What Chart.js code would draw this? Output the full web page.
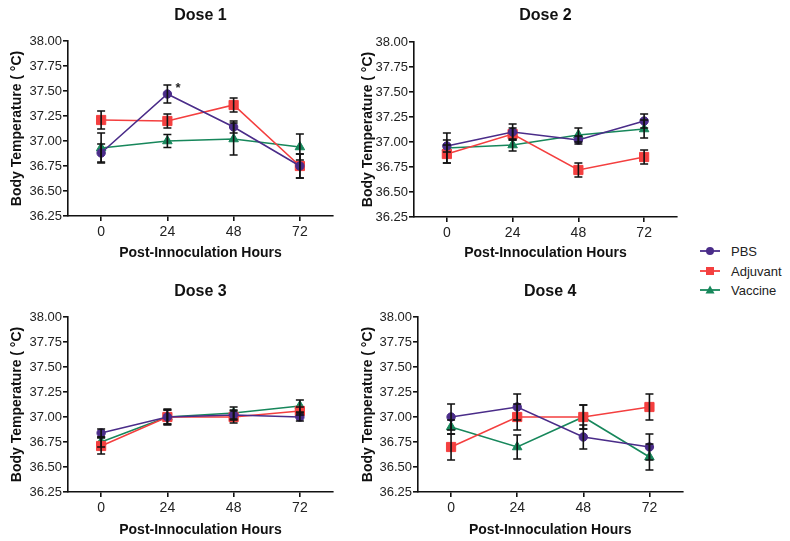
<!DOCTYPE html>
<html>
<head>
<meta charset="utf-8">
<script src="https://cdn.jsdelivr.net/npm/chart.js@4.4.1/dist/chart.umd.min.js"></script>
<style>
  html, body { margin: 0; padding: 0; background: #fff; }
  body { width: 790px; height: 541px; overflow: hidden; position: relative; font-family: "Liberation Sans", Arial, sans-serif; }
  .panel { position: absolute; }
  .panel canvas { display: block; }
  .li { position: absolute; left: 698px; height: 20px; display: flex; align-items: center; font-size: 13px; color: #222; }
  .li svg { margin-right: 9px; }
</style>
</head>
<body>
<div class="panel" id="p0" style="left:0px;top:0px;width:345px;height:262px"><canvas id="c0"></canvas></div>
<div class="panel" id="p1" style="left:345px;top:0px;width:345px;height:262px"><canvas id="c1"></canvas></div>
<div class="panel" id="p2" style="left:0px;top:275px;width:345px;height:264px"><canvas id="c2"></canvas></div>
<div class="panel" id="p3" style="left:345px;top:275px;width:345px;height:264px"><canvas id="c3"></canvas></div>
<div id="legend"></div>

<script>
// ---------------- DATA ----------------
const hours = [0, 24, 48, 72];
const xTickLabels = ['0', '24', '48', '72'];
const yTickValues = [36.25, 36.50, 36.75, 37.00, 37.25, 37.50, 37.75, 38.00];
const doseTitles = ['Dose 1', 'Dose 2', 'Dose 3', 'Dose 4'];
const seriesNames = ['PBS', 'Adjuvant', 'Vaccine'];
const xAxisTitle = 'Post-Innoculation Hours';
const yAxisTitle = 'Body Temperature ( \u00B0C)';

// mean body temperature per dose (rows) and hour (columns)
const pbsMean = [
  [36.88, 37.47, 37.14, 36.75],
  [36.96, 37.10, 37.02, 37.21],
  [36.84, 37.00, 37.02, 37.00],
  [37.00, 37.10, 36.80, 36.70]
];
const pbsErr = [
  [0.09, 0.09, 0.06, 0.12],
  [0.06, 0.08, 0.04, 0.07],
  [0.04, 0.07, 0.05, 0.04],
  [0.13, 0.13, 0.12, 0.13]
];
const adjuvantMean = [
  [37.21, 37.20, 37.36, 36.75],
  [36.88, 37.08, 36.72, 36.85],
  [36.71, 37.00, 37.00, 37.06],
  [36.70, 37.00, 37.00, 37.10]
];
const adjuvantErr = [
  [0.09, 0.07, 0.07, 0.12],
  [0.09, 0.06, 0.07, 0.07],
  [0.08, 0.07, 0.06, 0.04],
  [0.13, 0.13, 0.12, 0.13]
];
const vaccineMean = [
  [36.93, 37.00, 37.02, 36.94],
  [36.94, 36.97, 37.07, 37.13],
  [36.75, 37.00, 37.04, 37.11],
  [36.90, 36.70, 37.00, 36.60]
];
const vaccineErr = [
  [0.15, 0.065, 0.16, 0.13],
  [0.15, 0.06, 0.07, 0.09],
  [0.05, 0.08, 0.06, 0.06],
  [0.07, 0.12, 0.12, 0.13]
];
// significance marks: panel index, hour index, series index, text
const significance = [
  { panel: 0, hourIndex: 1, series: 0, text: '*' }
];

// ---------------- STYLE ----------------
const COLORS = ['#4a2c89', '#f43f3f', '#17875b'];
const POINT_STYLES = ['circle', 'rect', 'triangle'];
const POINT_RADII = [4.2, 6.5, 5.5];
const FONT = '"Liberation Sans", Arial, sans-serif';

// layout per panel: y-axis box width, right padding, axis-title offsets, title paddings
const panelLayout = [
  { yWidth: 68, padRight: 12, yTitlePad: 9,  titleTop: 6, titleBottom: 15.8, xHeight: 46 },
  { yWidth: 69, padRight: 13, yTitlePad: 15, titleTop: 6, titleBottom: 16.8, xHeight: 45 },
  { yWidth: 68, padRight: 12, yTitlePad: 9,  titleTop: 7.4, titleBottom: 15.4, xHeight: 47 },
  { yWidth: 73, padRight: 6,  yTitlePad: 15, titleTop: 7.4, titleBottom: 15.4, xHeight: 47 }
];

const errorBarPlugin = {
  id: 'errorBars',
  afterDatasetsDraw(chart) {
    const { ctx, scales: { y } } = chart;
    ctx.save();
    ctx.strokeStyle = '#111';
    ctx.lineWidth = 1.6;
    chart.data.datasets.forEach((ds, di) => {
      const meta = chart.getDatasetMeta(di);
      meta.data.forEach((pt, j) => {
        const v = ds.data[j], e = ds.err[j];
        const yt = y.getPixelForValue(v + e);
        const yb = y.getPixelForValue(v - e);
        const px = pt.x;
        ctx.beginPath();
        ctx.moveTo(px, yt); ctx.lineTo(px, yb);
        ctx.moveTo(px - 4, yt); ctx.lineTo(px + 4, yt);
        ctx.moveTo(px - 4, yb); ctx.lineTo(px + 4, yb);
        ctx.stroke();
      });
    });
    ctx.restore();
  }
};

const significancePlugin = {
  id: 'significance',
  afterDraw(chart) {
    const idx = chart.options.plugins.significance.panel;
    const { ctx } = chart;
    significance.filter(s => s.panel === idx).forEach(s => {
      const pt = chart.getDatasetMeta(s.series).data[s.hourIndex];
      ctx.save();
      ctx.fillStyle = '#222';
      ctx.font = 'bold 13px ' + FONT;
      ctx.textAlign = 'left';
      ctx.textBaseline = 'middle';
      ctx.fillText(s.text, pt.x + 8, pt.y - 6);
      ctx.restore();
    });
  }
};

function makeChart(i) {
  const L = panelLayout[i];
  const means = [pbsMean[i], adjuvantMean[i], vaccineMean[i]];
  const errs = [pbsErr[i], adjuvantErr[i], vaccineErr[i]];
  const datasets = seriesNames.map((name, s) => ({
    label: name,
    data: means[s],
    err: errs[s],
    borderColor: COLORS[s],
    backgroundColor: COLORS[s],
    pointBackgroundColor: COLORS[s],
    pointBorderColor: COLORS[s],
    pointStyle: POINT_STYLES[s],
    pointRadius: POINT_RADII[s],
    pointBorderWidth: 1,
    borderWidth: 1.6,
    tension: 0
  }));

  new Chart(document.getElementById('c' + i), {
    type: 'line',
    data: { labels: hours.map((h, k) => xTickLabels[k]), datasets },
    plugins: [errorBarPlugin, significancePlugin],
    options: {
      responsive: true,
      maintainAspectRatio: false,
      animation: false,
      layout: { padding: { left: 0, right: L.padRight, top: 0, bottom: 0 } },
      plugins: {
        legend: { display: false },
        tooltip: { enabled: false },
        significance: { panel: i },
        title: {
          display: true,
          text: doseTitles[i],
          fullSize: false,
          color: '#111',
          font: { family: FONT, size: 16, weight: 'bold' },
          padding: { top: L.titleTop, bottom: L.titleBottom }
        }
      },
      scales: {
        x: {
          type: 'category',
          offset: true,
          afterFit(scale) { scale.height = L.xHeight; },
          border: { display: true, color: '#111', width: 1.6 },
          grid: { display: true, drawOnChartArea: false, drawTicks: true, tickLength: 5, color: '#111', lineWidth: 1.6, offset: false },
          ticks: { color: '#222', font: { family: FONT, size: 14 }, padding: 3, maxRotation: 0 },
          title: {
            display: true, text: xAxisTitle, color: '#111',
            font: { family: FONT, size: 14, weight: 'bold' },
            padding: { top: 3.6, bottom: 0 }
          }
        },
        y: {
          type: 'linear',
          min: 36.25,
          max: 38.0,
          afterBuildTicks(scale) { scale.ticks = yTickValues.map(v => ({ value: v })); },
          afterFit(scale) { scale.width = L.yWidth; },
          border: { display: true, color: '#111', width: 1.6 },
          grid: { display: true, drawOnChartArea: false, drawTicks: true, tickLength: 5, color: '#111', lineWidth: 1.6 },
          ticks: {
            color: '#222', font: { family: FONT, size: 13 }, padding: 1,
            callback: v => Number(v).toFixed(2)
          },
          title: {
            display: true, text: yAxisTitle, color: '#111',
            font: { family: FONT, size: 14, weight: 'bold' },
            padding: { top: L.yTitlePad - 0.6, bottom: 0 }
          }
        }
      }
    }
  });
}

for (let i = 0; i < 4; i++) makeChart(i);

// ---------------- LEGEND (HTML text) ----------------
const legendRows = [241, 261, 280];
const legend = document.getElementById('legend');
seriesNames.forEach((name, s) => {
  const row = document.createElement('div');
  row.className = 'li';
  row.style.top = legendRows[s] + 'px';
  const c = COLORS[s];
  let marker = '';
  if (POINT_STYLES[s] === 'circle') marker = `<circle cx="12" cy="10" r="4" fill="${c}"/>`;
  else if (POINT_STYLES[s] === 'rect') marker = `<rect x="8" y="6" width="8" height="8" fill="${c}"/>`;
  else marker = `<polygon points="12,5.5 16.5,13.5 7.5,13.5" fill="${c}"/>`;
  row.innerHTML = `<svg width="24" height="20"><line x1="2" y1="10" x2="22" y2="10" stroke="${c}" stroke-width="1.8"/>${marker}</svg><span>${name}</span>`;
  legend.appendChild(row);
});
</script>
</body>
</html>
